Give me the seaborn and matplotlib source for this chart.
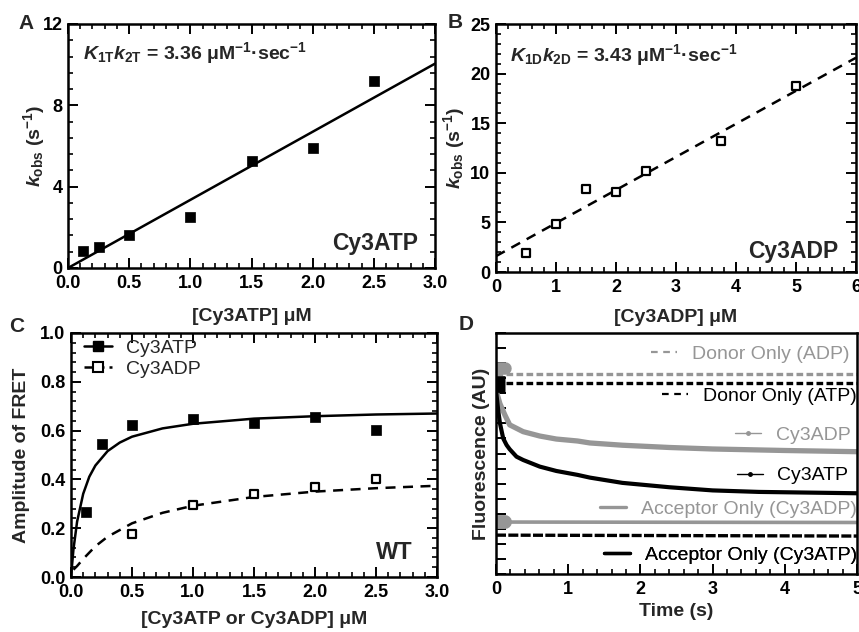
import matplotlib
matplotlib.use("Agg")
import matplotlib.pyplot as plt
import seaborn as sns
from matplotlib.ticker import MultipleLocator, NullFormatter, NullLocator
from matplotlib.lines import Line2D

# ---------------- data ----------------
# Panel A  (Cy3ATP)
a_conc = [0.125, 0.25, 0.5, 1.0, 1.5, 2.0, 2.5]
a_kobs = [0.84, 1.02, 1.64, 2.52, 5.28, 5.92, 9.18]
a_fit_x = [0.0, 3.0]
a_fit_y = [0.0, 10.05]
a_text = "3.36"

# Panel B  (Cy3ADP)
b_conc = [0.5, 1.0, 1.5, 2.0, 2.5, 3.75, 5.0]
b_kobs = [1.88, 4.8, 8.32, 8.05, 10.17, 13.19, 18.79]
b_fit_x = [0.0, 6.0]
b_fit_y = [1.6, 21.6]
b_text = "3.43"

# Panel C  (FRET amplitude)
c_atp_conc = [0.125, 0.25, 0.5, 1.0, 1.5, 2.0, 2.5]
c_atp_amp = [0.268, 0.547, 0.622, 0.649, 0.630, 0.657, 0.601]
c_adp_conc = [0.5, 1.0, 1.5, 2.0, 2.5]
c_adp_amp = [0.175, 0.296, 0.340, 0.367, 0.402]
c_atp_fit_x = [0.0, 0.02, 0.05, 0.1, 0.15, 0.2, 0.3, 0.4, 0.5, 0.75, 1.0, 1.5, 2.0, 2.5, 3.0]
c_atp_fit_y = [0.0, 0.113, 0.227, 0.341, 0.411, 0.457, 0.516, 0.551, 0.575, 0.609, 0.628, 0.649, 0.659, 0.666, 0.670]
c_adp_fit_x = [0.02, 0.05, 0.1, 0.2, 0.3, 0.5, 0.75, 1.0, 1.5, 2.0, 2.5, 3.0]
c_adp_fit_y = [0.030, 0.045, 0.074, 0.126, 0.165, 0.220, 0.263, 0.292, 0.328, 0.350, 0.364, 0.374]

# Panel D  (fluorescence traces, arbitrary units)
d_time_flat = [0.0, 5.0]
d_donor_adp = [13.3, 13.3]
d_donor_atp = [12.65, 12.65]
d_acc_adp = [3.45, 3.42]
d_acc_atp = [2.58, 2.52]
d_cy3adp_t = [0.0, 0.055, 0.124, 0.19, 0.376, 0.606, 0.836, 1.13, 1.3, 1.75, 2.4, 3.0, 4.0, 5.0]
d_cy3adp_y = [12.2, 11.3, 10.55, 9.9, 9.45, 9.16, 8.96, 8.83, 8.7, 8.55, 8.4, 8.3, 8.2, 8.12]
d_cy3atp_t = [0.0, 0.03, 0.055, 0.1, 0.147, 0.19, 0.284, 0.376, 0.606, 0.836, 1.13, 1.3, 1.75, 2.4, 3.0, 3.64, 5.0]
d_cy3atp_y = [12.2, 10.88, 10.0, 9.0, 8.56, 8.28, 7.79, 7.57, 7.13, 6.84, 6.58, 6.4, 6.05, 5.76, 5.55, 5.45, 5.36]
d_blob_t = [0.0, 0.12]
d_blob_donor_adp = [13.7, 13.7]
d_blob_donor_atp = [12.6, 12.6]
d_blob_acc_adp = [3.45, 3.45]
d_labels = ["Donor Only (ADP)", "Donor Only (ATP)", "Cy3ADP", "Cy3ATP",
            "Acceptor Only (Cy3ADP)", "Acceptor Only (Cy3ATP)"]

# ---------------- style ----------------
sns.set_theme(style="ticks")
plt.rcParams["font.family"] = ["Liberation Sans", "DejaVu Sans"]
plt.rcParams.update({
    "font.weight": "bold",
    "axes.labelweight": "bold",
    "axes.labelsize": 14,
    "xtick.labelsize": 13,
    "ytick.labelsize": 13,
    "mathtext.fontset": "custom",
    "mathtext.rm": "Liberation Sans:bold",
    "mathtext.it": "Liberation Sans:italic:bold",
    "mathtext.bf": "Liberation Sans:bold",
    "axes.edgecolor": "black",
    "axes.linewidth": 1.8,
    "xtick.color": "black",
    "ytick.color": "black",
    "xtick.direction": "in",
    "ytick.direction": "in",
    "xtick.top": True,
    "ytick.right": True,
    "xtick.major.size": 7,
    "ytick.major.size": 7,
    "xtick.minor.size": 3.5,
    "ytick.minor.size": 3.5,
    "xtick.major.width": 1.4,
    "ytick.major.width": 1.4,
    "xtick.minor.width": 1.2,
    "ytick.minor.width": 1.2,
    "xtick.major.pad": 5,
    "ytick.major.pad": 4,
})

GRAY = "#969696"
W, H = 859, 632
fig = plt.figure(figsize=(W / 100, H / 100), dpi=100)


def make_ax(l, r, t, b):
    return fig.add_axes([l / W, 1 - b / H, (r - l) / W, (b - t) / H])


def set_locs(ax, xmaj, xmin, ymaj, ymin):
    ax.xaxis.set_major_locator(MultipleLocator(xmaj))
    ax.xaxis.set_minor_locator(MultipleLocator(xmin))
    ax.yaxis.set_major_locator(MultipleLocator(ymaj))
    ax.yaxis.set_minor_locator(MultipleLocator(ymin))


def finish_ticks(ax, all_sides=True):
    ax.tick_params(which="both", direction="in", bottom=True, left=True,
                   top=all_sides, right=all_sides, colors="black")
    ax.tick_params(which="major", length=7, width=1.4)
    ax.tick_params(which="minor", length=3.5, width=1.2)


axA = make_ax(68, 435, 24, 268)
axB = make_ax(496, 856, 24, 272)
axC = make_ax(71, 437, 333, 577)
axD = make_ax(496, 857, 333, 574)

# ---------------- Panel A ----------------
sns.lineplot(x=a_fit_x, y=a_fit_y, color="black", lw=1.8, errorbar=None, ax=axA)
sns.scatterplot(x=a_conc, y=a_kobs, marker="s", s=48, color="black",
                edgecolor="black", linewidth=0.5, ax=axA, zorder=3)
axA.set_xlim(0, 3)
axA.set_ylim(0, 12)
set_locs(axA, 0.5, 0.1, 4, 0.8)
axA.set_xlabel("[Cy3ATP] μM")
axA.set_ylabel(r"$k_{\mathrm{obs}}$ (s$^{\mathrm{-1}}$)")
axA.xaxis.set_label_coords(0.5, -0.165)
axA.yaxis.set_label_coords(-0.058, 0.5)
axA.text(0.042, 0.88, r"$K_{\mathrm{1T}}k_{\mathrm{2T}}$ = " + a_text + r" μM$^{\mathrm{-1}}$·sec$^{\mathrm{-1}}$",
         transform=axA.transAxes, fontsize=14, fontweight="bold", va="center", ha="left")
axA.text(0.955, 0.10, "Cy3ATP", transform=axA.transAxes, fontsize=16.5,
         fontweight="bold", ha="right", va="center")

# ---------------- Panel B ----------------
sns.lineplot(x=b_fit_x, y=b_fit_y, color="black", lw=1.8, errorbar=None,
             linestyle=(0, (4, 3)), ax=axB)
sns.scatterplot(x=b_conc, y=b_kobs, marker="s", s=36, facecolor="white",
                edgecolor="black", linewidth=1.6, ax=axB, zorder=3)
axB.set_xlim(0, 6)
axB.set_ylim(0, 25)
set_locs(axB, 1, 0.2, 5, 1)
axB.set_xlabel("[Cy3ADP] μM")
axB.set_ylabel(r"$k_{\mathrm{obs}}$ (s$^{\mathrm{-1}}$)")
axB.xaxis.set_label_coords(0.5, -0.15)
axB.yaxis.set_label_coords(-0.081, 0.5)
axB.text(0.039, 0.875, r"$K_{\mathrm{1D}}k_{\mathrm{2D}}$ = " + b_text + r" μM$^{\mathrm{-1}}$·sec$^{\mathrm{-1}}$",
         transform=axB.transAxes, fontsize=14, fontweight="bold", va="center", ha="left")
axB.text(0.95, 0.082, "Cy3ADP", transform=axB.transAxes, fontsize=16.5,
         fontweight="bold", ha="right", va="center")

# ---------------- Panel C ----------------
sns.lineplot(x=c_atp_fit_x, y=c_atp_fit_y, color="black", lw=1.8, errorbar=None, ax=axC)
sns.lineplot(x=c_adp_fit_x, y=c_adp_fit_y, color="black", lw=1.8, errorbar=None,
             linestyle=(0, (4, 3)), ax=axC)
sns.scatterplot(x=c_atp_conc, y=c_atp_amp, marker="s", s=48, color="black",
                edgecolor="black", linewidth=0.5, ax=axC, zorder=3)
sns.scatterplot(x=c_adp_conc, y=c_adp_amp, marker="s", s=36, facecolor="white",
                edgecolor="black", linewidth=1.6, ax=axC, zorder=3)
axC.set_xlim(0, 3)
axC.set_ylim(0, 1.0)
set_locs(axC, 0.5, 0.1, 0.2, 0.04)
axC.set_xlabel("[Cy3ATP or Cy3ADP] μM")
axC.set_ylabel("Amplitude of FRET")
axC.xaxis.set_label_coords(0.5, -0.14)
axC.yaxis.set_label_coords(-0.112, 0.5)
h_atp = Line2D([], [], color="black", lw=1.8, marker="s", ms=7, mfc="black", mec="black")
h_adp = Line2D([], [], color="black", lw=1.8, ls=(0, (3, 2)), marker="s", ms=6.5,
               mfc="white", mec="black", mew=1.5)
legC = axC.legend(handles=[h_atp, h_adp], labels=["Cy3ATP", "Cy3ADP"], loc="upper left",
                  bbox_to_anchor=(0.035, 0.975), frameon=False, borderpad=0, borderaxespad=0,
                  handlelength=1.45, handletextpad=0.7, labelspacing=0.2,
                  prop={"size": 14, "weight": "normal"})
axC.text(0.934, 0.10, "WT", transform=axC.transAxes, fontsize=17, fontweight="bold",
         ha="right", va="center")

# ---------------- Panel D ----------------
sns.lineplot(x=d_time_flat, y=d_donor_adp, color=GRAY, lw=2.4, linestyle=(0, (2, 1)),
             errorbar=None, ax=axD)
sns.lineplot(x=d_time_flat, y=d_donor_atp, color="black", lw=2.4, linestyle=(0, (2, 1)),
             errorbar=None, ax=axD)
sns.lineplot(x=d_time_flat, y=d_acc_adp, color=GRAY, lw=2.6, errorbar=None, ax=axD)
sns.lineplot(x=d_time_flat, y=d_acc_atp, color="black", lw=2.4, linestyle=(0, (3, 0.7)),
             errorbar=None, ax=axD)
sns.lineplot(x=d_cy3adp_t, y=d_cy3adp_y, color=GRAY, lw=3.8, errorbar=None, ax=axD)
sns.lineplot(x=d_cy3atp_t, y=d_cy3atp_y, color="black", lw=3.0, errorbar=None, ax=axD)
sns.lineplot(x=d_blob_t, y=d_blob_donor_adp, color=GRAY, lw=9, errorbar=None,
             solid_capstyle="round", ax=axD)
sns.lineplot(x=d_blob_t, y=d_blob_donor_atp, color="black", lw=12, errorbar=None,
             solid_capstyle="butt", ax=axD)
sns.lineplot(x=d_blob_t, y=d_blob_acc_adp, color=GRAY, lw=10, errorbar=None,
             solid_capstyle="round", ax=axD)
axD.set_xlim(0, 5)
axD.set_ylim(0, 16)
set_locs(axD, 1, 0.2, 1, 1)
axD.yaxis.set_minor_locator(NullLocator())
axD.yaxis.set_major_formatter(NullFormatter())
axD.set_xlabel("Time (s)")
axD.set_ylabel("Fluorescence (AU)")
axD.xaxis.set_label_coords(0.5, -0.12)
axD.yaxis.set_label_coords(-0.017, 0.5)

d_handles = [
    Line2D([], [], color=GRAY, lw=1.6, ls=(0, (3, 2.5))),
    Line2D([], [], color="black", lw=1.6, ls=(0, (3, 2.5))),
    Line2D([], [], color=GRAY, lw=1.0, marker="o", ms=2.5, mfc=GRAY, mec=GRAY),
    Line2D([], [], color="black", lw=1.0, marker="o", ms=2.5, mfc="black", mec="black"),
    Line2D([], [], color=GRAY, lw=2.4),
    Line2D([], [], color="black", lw=2.4),
]
d_colors = [GRAY, "black", GRAY, "black", GRAY, "black"]
d_anchor = [(0.979, 0.914), (0.999, 0.738), (0.982, 0.577), (0.976, 0.408),
            (0.999, 0.269), (0.999, 0.080)]
for h, lbl, col, anc in zip(d_handles, d_labels, d_colors, d_anchor):
    leg = axD.legend(handles=[h], labels=[lbl], loc="center right", bbox_to_anchor=anc,
                     frameon=False, borderpad=0, borderaxespad=0, handlelength=1.35,
                     handletextpad=0.75, prop={"size": 14, "weight": "normal"},
                     labelcolor=col)
    axD.add_artist(leg)

# panel letters
for letter, (px, py) in zip("ABCD", [(26, 23.5), (455, 23), (17, 326), (466, 324)]):
    fig.text(px / W, 1 - py / H, letter, fontsize=15, fontweight="bold",
             ha="center", va="center")

# make sure every tick is created, then (re)apply tick styling before saving
fig.canvas.draw()
for ax in (axA, axB, axC):
    finish_ticks(ax, True)
finish_ticks(axD, False)
axD.tick_params(axis="y", which="minor", left=False, right=False)
fig.canvas.draw()
fig.savefig("out.png", dpi=100)
